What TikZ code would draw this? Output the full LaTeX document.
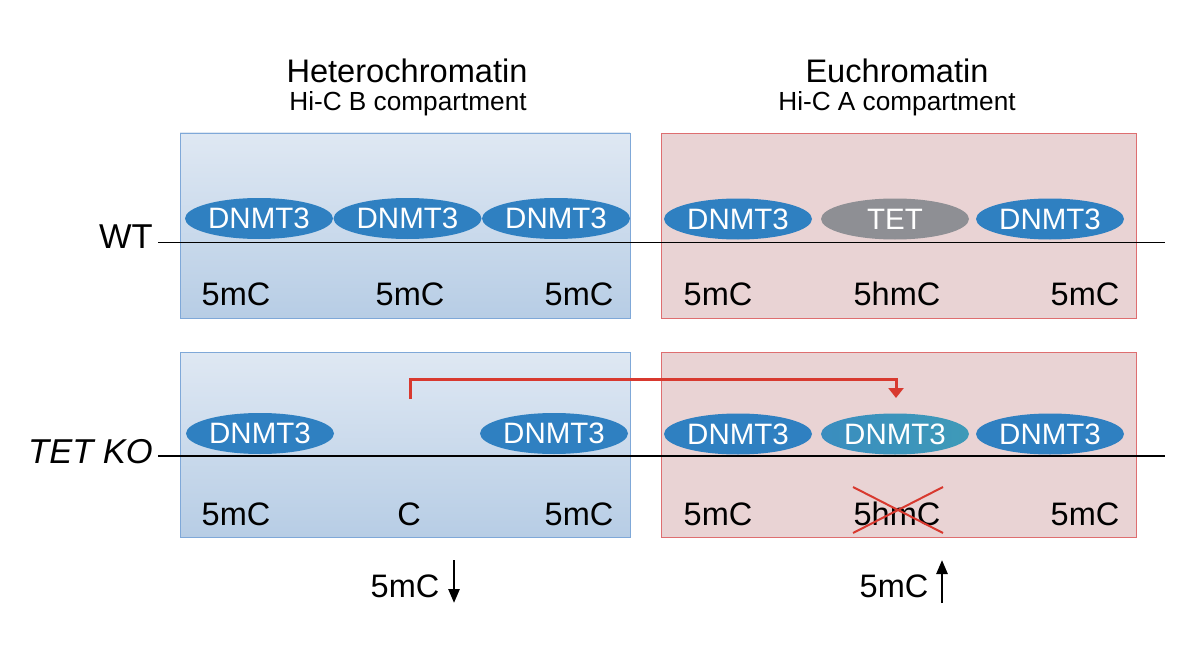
\documentclass[tikz,border=0pt]{standalone}
\usepackage{fontspec}
\setmainfont{Liberation Sans}
\usetikzlibrary{arrows.meta,shapes.geometric}
\definecolor{dnmtblue}{HTML}{2F80C1}
\definecolor{tetgray}{HTML}{8E8F94}
\definecolor{tealA}{HTML}{3A8DBF}
\definecolor{tealB}{HTML}{3E9AB8}
\definecolor{hetTop}{HTML}{DFE8F3}
\definecolor{hetBot}{HTML}{B7CDE5}
\definecolor{hetLine}{HTML}{7FA8D8}
\definecolor{euFill}{HTML}{E9D3D4}
\definecolor{euLine}{HTML}{DE6E70}
\definecolor{redarr}{HTML}{D8392F}
\tikzset{
  hetbox/.style={draw=hetLine, line width=0.9pt, top color=hetTop, bottom color=hetBot},
  eubox/.style={draw=euLine, line width=0.9pt, fill=euFill},
  enz/.style={ellipse, minimum width=148pt, minimum height=41pt, inner sep=0pt,
    text=white, font=\fontsize{29.5}{31}\selectfont},
  dnmt/.style={enz, fill=dnmtblue},
  tet/.style={enz, fill=tetgray},
  mark5/.style={anchor=base, inner sep=0pt, font=\fontsize{32.5}{34}\selectfont},
  ttl/.style={anchor=base, inner sep=0pt, font=\fontsize{32.6}{34}\selectfont},
  subttl/.style={anchor=base, inner sep=0pt, font=\fontsize{26.2}{28}\selectfont},
  rowlab/.style={anchor=base east, inner sep=0pt, font=\fontsize{34.5}{36}\selectfont},
  dna/.style={line width=1.4pt, black},
  redpath/.style={draw=redarr, line width=3pt, -{Triangle[width=15pt,length=10pt]}},
  cross/.style={draw=redarr, line width=2pt},
  trend/.style={line width=2.6pt, -{Triangle[width=11pt,length=14pt]}}
}
\begin{document}
\begin{tikzpicture}[x=1pt,y=-1pt]
\useasboundingbox[fill=white] (0,0) rectangle (1200,650);

% titles
\node[ttl] (het) at (407,83) {Heterochromatin};
\node[subttl] (hetsub) at (408,111) {Hi-C B compartment};
\node[ttl] (eu) at (897,83) {Euchromatin};
\node[subttl] (eusub) at (897,111) {Hi-C A compartment};

% boxes
\path[hetbox] (180,133) rectangle (630,318);
\path[eubox] (661,133) rectangle (1136,318);
\path[hetbox] (180,352) rectangle (630,537);
\path[eubox] (661,352) rectangle (1136,537);

% row labels and DNA lines
\node[rowlab] (wt) at (153,248) {WT};
\node[rowlab] (ko) at (153,463) {\itshape TET KO};
\coordinate (wtend) at (1165,242.5);
\coordinate (koend) at (1165,456);
\draw[dna] (158,242.5) -- (wtend);
\draw[dna] (158,456) -- (koend);

% WT row enzymes
\node[dnmt] (a1) at (259,218.5) {DNMT3};
\node[dnmt] (a2) at (407.5,218.5) {DNMT3};
\node[dnmt] (a3) at (556,218.5) {DNMT3};
\node[dnmt] (a4) at (738,219) {DNMT3};
\node[tet] (a5) at (895,219) {TET};
\node[dnmt] (a6) at (1050,219) {DNMT3};

% TET KO row enzymes
\node[dnmt] (b1) at (260,433.5) {DNMT3};
\node[dnmt] (b3) at (554,433.5) {DNMT3};
\node[dnmt] (b4) at (738,434) {DNMT3};
\node[enz, left color=tealA, right color=tealB] (b5) at (895,434) {DNMT3};
\node[dnmt] (b6) at (1050,434) {DNMT3};

% WT marks
\node[mark5] (m1) at (236,305) {5mC};
\node[mark5] (m2) at (410,305) {5mC};
\node[mark5] (m3) at (579,305) {5mC};
\node[mark5] (m4) at (718,305) {5mC};
\node[mark5] (m5) at (897,305) {5hmC};
\node[mark5] (m6) at (1085,305) {5mC};

% TET KO marks
\node[mark5] (k1) at (236,525) {5mC};
\node[mark5] (k2) at (409,525) {C};
\node[mark5] (k3) at (579,525) {5mC};
\node[mark5] (k4) at (718,525) {5mC};
\node[mark5] (k5) at (897,525) {5hmC};
\node[mark5] (k6) at (1085,525) {5mC};

% cross over 5hmC
\draw[cross] (853,487) -- (943,533);
\draw[cross] (853,533) -- (943,487);

% red relocation arrow
\coordinate (rs) at (410,399);
\coordinate (re) at (896,398);
\draw[redpath] (rs) -- ++(0,-20) -| (re);

% trends
\node[mark5] (t1) at (405,597) {5mC};
\node[mark5] (t2) at (894,597) {5mC};
\coordinate (d1) at (454,560);
\coordinate (d2) at (454,603);
\coordinate (u1) at (942,603);
\coordinate (u2) at (942,560);
\draw[trend] (d1) -- (d2);
\draw[trend] (u1) -- (u2);
\end{tikzpicture}
\end{document}
